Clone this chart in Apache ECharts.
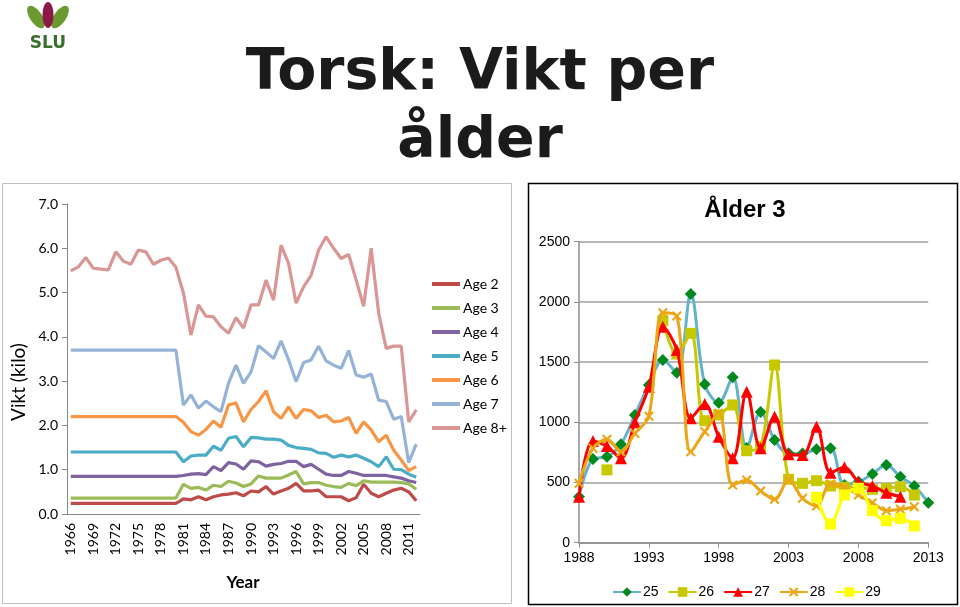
<!DOCTYPE html>
<html><head><meta charset="utf-8">
<script src="https://cdn.jsdelivr.net/npm/echarts@6/dist/echarts.min.js"></script>
<style>html,body{margin:0;padding:0;background:#fff}#c{width:960px;height:607px}</style>
</head><body><div id="c"></div>
<script>
// ---------- Left chart data (weight in kg by age) ----------
const ageYears = ['1966','1967','1968','1969','1970','1971','1972','1973','1974','1975','1976','1977','1978','1979','1980',
  '1981','1982','1983','1984','1985','1986','1987','1988','1989','1990','1991','1992','1993','1994','1995','1996','1997',
  '1998','1999','2000','2001','2002','2003','2004','2005','2006','2007','2008','2009','2010','2011','2012'];
const age2 = [0.24,0.24,0.24,0.24,0.24,0.24,0.24,0.24,0.24,0.24,0.24,0.24,0.24,0.24,0.24,
  0.34,0.32,0.39,0.32,0.39,0.43,0.45,0.48,0.41,0.52,0.50,0.62,0.45,0.52,0.58,0.69,0.52,0.52,0.54,0.39,
  0.39,0.39,0.30,0.37,0.67,0.47,0.39,0.47,0.54,0.58,0.50,0.30];
const age3 = [0.36,0.36,0.36,0.36,0.36,0.36,0.36,0.36,0.36,0.36,0.36,0.36,0.36,0.36,0.36,
  0.67,0.58,0.60,0.54,0.65,0.62,0.74,0.70,0.62,0.68,0.86,0.81,0.81,0.81,0.88,0.96,0.68,0.71,0.71,0.65,
  0.62,0.60,0.69,0.64,0.75,0.72,0.72,0.72,0.72,0.71,0.68,0.56];
const age4 = [0.85,0.85,0.85,0.85,0.85,0.85,0.85,0.85,0.85,0.85,0.85,0.85,0.85,0.85,0.85,
  0.87,0.90,0.91,0.89,1.07,0.98,1.16,1.13,1.01,1.20,1.18,1.08,1.12,1.14,1.19,1.19,1.07,1.12,1.01,0.90,
  0.87,0.87,0.96,0.92,0.87,0.87,0.87,0.87,0.84,0.81,0.75,0.71];
const age5 = [1.40,1.40,1.40,1.40,1.40,1.40,1.40,1.40,1.40,1.40,1.40,1.40,1.40,1.40,1.40,
  1.18,1.31,1.33,1.33,1.53,1.44,1.71,1.75,1.52,1.73,1.72,1.69,1.69,1.67,1.55,1.50,1.48,1.46,1.38,1.37,
  1.28,1.33,1.29,1.33,1.26,1.18,1.07,1.29,1.01,1.00,0.90,0.83];
const age6 = [2.20,2.20,2.20,2.20,2.20,2.20,2.20,2.20,2.20,2.20,2.20,2.20,2.20,2.20,2.20,
  2.07,1.86,1.78,1.91,2.10,1.96,2.46,2.51,2.08,2.36,2.54,2.78,2.31,2.16,2.42,2.16,2.36,2.33,2.18,2.23,
  2.08,2.10,2.18,1.82,2.08,1.90,1.63,1.78,1.44,1.22,0.98,1.07];
const age7 = [3.70,3.70,3.70,3.70,3.70,3.70,3.70,3.70,3.70,3.70,3.70,3.70,3.70,3.70,3.70,
  2.46,2.69,2.39,2.55,2.42,2.31,2.95,3.36,2.95,3.21,3.80,3.66,3.51,3.91,3.48,2.99,3.42,3.48,3.79,3.46,
  3.36,3.29,3.69,3.14,3.09,3.16,2.57,2.54,2.14,2.20,1.16,1.58];
const age8 = [5.49,5.58,5.79,5.55,5.53,5.51,5.92,5.71,5.64,5.96,5.92,5.64,5.73,5.78,5.57,
  4.99,4.04,4.72,4.47,4.45,4.23,4.08,4.43,4.20,4.72,4.72,5.28,4.83,6.07,5.66,4.76,5.13,5.39,5.96,6.26,
  6.00,5.77,5.86,5.28,4.69,6.00,4.53,3.74,3.79,3.79,2.08,2.35];
const ageNames = ['Age 2','Age 3','Age 4','Age 5','Age 6','Age 7','Age 8+'];
const ageColors = ['#BE4B48','#9BBB59','#7F63A1','#4AACC5','#F79646','#95B3D7','#D99694'];

// ---------- Right chart data (Ålder 3) ----------
const r3Years = [1988,1989,1990,1991,1992,1993,1994,1995,1996,1997,1998,1999,2000,2001,2002,2003,2004,2005,2006,2007,2008,2009,2010,2011,2012,2013];
const s25 = [382,695,714,817,1061,1310,1518,1412,2066,1316,1163,1374,786,1085,853,742,740,776,784,480,507,571,645,548,471,332];
const s26 = [null,null,605,null,null,null,1844,1567,1739,1013,1061,1144,764,800,1476,527,493,515,471,460,460,443,451,465,396,null];
const s27 = [382,845,803,701,1000,1296,1794,1600,1033,1152,880,701,1254,784,1047,735,728,964,582,626,507,471,415,382,null,null];
const s28 = [493,784,860,756,908,1050,1910,1883,756,922,1075,479,521,430,360,521,369,305,488,460,396,332,266,277,299,null];
const s29 = [null,null,null,null,null,null,null,null,null,null,null,null,null,null,null,null,null,377,155,396,452,266,183,203,139,null];
const r3Names = ['25','26','27','28','29'];

function pairs(vals){ return r3Years.map((y,i)=>[y, vals[i]==null ? '-' : vals[i]]); }

const chart = echarts.init(document.getElementById('c'), null, {renderer:'canvas'});
const leftFont = 'Lato, "Liberation Sans", sans-serif';
const rightFont = '"Liberation Sans", Arial, sans-serif';
const ageData = [age2,age3,age4,age5,age6,age7,age8];

const series = [];
ageData.forEach((d,i)=>{
  series.push({type:'line', name:ageNames[i], xAxisIndex:0, yAxisIndex:0, data:d,
    symbol:'none', lineStyle:{width:3.2,color:ageColors[i]}, itemStyle:{color:ageColors[i]}, z:2+i, animation:false});
});
const xPath = 'path://M0,1.5L1.5,0L5,3.5L8.5,0L10,1.5L6.5,5L10,8.5L8.5,10L5,6.5L1.5,10L0,8.5L3.5,5Z';
const rDefs = [
  {d:s25, line:'#63B3CF', mk:'#008A1E', sym:'diamond', size:12},
  {d:s26, line:'#C8C800', mk:'#C8C800', sym:'rect', size:11},
  {d:s27, line:'#FF0000', mk:'#FF0000', sym:'triangle', size:12},
  {d:s28, line:'#EBA614', mk:'#EBA614', sym:xPath, size:10},
  {d:s29, line:'#FFFF00', mk:'#FFFF00', sym:'rect', size:11}
];
rDefs.forEach((s,i)=>{
  series.push({type:'line', name:r3Names[i], xAxisIndex:1, yAxisIndex:1, data:pairs(s.d),
    smooth:0.35, connectNulls:false, symbol:s.sym, symbolSize:s.size, showAllSymbol:true,
    lineStyle:{width:3,color:s.line}, itemStyle:{color:s.mk, borderWidth:0}, z:3+i, animation:false});
});

chart.setOption({
  animation:false,
  grid:[
    {left:67, top:204, width:353, height:310},
    {left:579, top:241.7, width:349.3, height:301}
  ],
  xAxis:[
    {type:'category', gridIndex:0, data:ageYears, boundaryGap:true,
     axisLine:{lineStyle:{color:'#868686',width:1}},
     axisTick:{interval:0, length:5, lineStyle:{color:'#868686'}},
     axisLabel:{interval:2, rotate:90, fontFamily:leftFont, fontSize:14, color:'#000', margin:9}},
    {type:'value', gridIndex:1, min:1988, max:2013, interval:5,
     axisLine:{lineStyle:{color:'#8C8C8C',width:1.5}},
     axisTick:{show:true, length:5, lineStyle:{color:'#8C8C8C'}},
     axisLabel:{formatter:v=>String(v), fontFamily:rightFont, fontSize:14, color:'#000', margin:8},
     splitLine:{show:false}}
  ],
  yAxis:[
    {type:'value', gridIndex:0, min:0, max:7, interval:1,
     axisLine:{show:true, lineStyle:{color:'#868686',width:1}},
     axisTick:{show:true, length:5, lineStyle:{color:'#868686'}},
     axisLabel:{formatter:v=>v.toFixed(1), fontFamily:leftFont, fontSize:14, color:'#000', margin:9},
     splitLine:{show:false}},
    {type:'value', gridIndex:1, min:0, max:2500, interval:500,
     axisLine:{show:true, lineStyle:{color:'#8C8C8C',width:1.5}},
     axisTick:{show:true, length:5, lineStyle:{color:'#8C8C8C'}},
     axisLabel:{formatter:v=>String(v), fontFamily:rightFont, fontSize:14, color:'#000', margin:9},
     splitLine:{show:true, lineStyle:{color:'#A0A0A0', width:1.5}}}
  ],
  legend:[
    {data:ageNames, orient:'vertical', left:427, top:272, icon:'rect', itemWidth:28, itemHeight:4, itemGap:10,
     textStyle:{fontFamily:leftFont, fontSize:14, color:'#000', padding:[0,0,0,-2]}, selectedMode:false},
    {data:r3Names, orient:'horizontal', left:607, top:580, itemWidth:28, itemHeight:12, itemGap:9,
     textStyle:{fontFamily:rightFont, fontSize:14, color:'#000', padding:[0,0,0,-3]}, selectedMode:false}
  ],
  graphic:[
    {type:'text', left:'center', top:40, z:10,
     style:{text:'Torsk: Vikt per\nålder', font:'bold 57px "DejaVu Sans", sans-serif', fill:'#1b1b1b',
            textAlign:'center', lineHeight:68}},
    {type:'text', x:745, y:210, z:10,
     style:{text:'Ålder 3', font:'bold 24px "Liberation Sans", Arial, sans-serif', fill:'#000',
            textAlign:'center', textVerticalAlign:'middle'}},
    {type:'text', x:19, y:382, rotation:Math.PI/2, z:10,
     style:{text:'Vikt (kilo)', font:'19px Lato, "Liberation Sans", sans-serif', fill:'#000',
            textAlign:'center', textVerticalAlign:'middle'}},
    {type:'text', x:243, y:583, z:10,
     style:{text:'Year', font:'bold 17px Lato, "Liberation Sans", sans-serif', fill:'#000',
            textAlign:'center', textVerticalAlign:'middle'}},
    {type:'rect', shape:{x:528.5, y:183.5, width:429, height:421}, z:0,
     style:{fill:'none', stroke:'#000', lineWidth:1.5}},
    {type:'rect', shape:{x:2.5, y:183.5, width:509, height:420}, z:0,
     style:{fill:'none', stroke:'#BFBFBF', lineWidth:1}},
    // SLU logo
    {type:'ellipse', shape:{cx:0, cy:0, rx:6, ry:13}, x:36, y:17, rotation:0.6, z:10,
     style:{fill:'#6C9A2E'}},
    {type:'ellipse', shape:{cx:0, cy:0, rx:6, ry:13}, x:60, y:17, rotation:-0.6, z:10,
     style:{fill:'#6C9A2E'}},
    {type:'ellipse', shape:{cx:0, cy:0, rx:5.5, ry:13}, x:48, y:15, z:11,
     style:{fill:'#8B1A4A'}},
    {type:'text', x:48, y:44, z:10,
     style:{text:'SLU', font:'bold 17px "DejaVu Sans", sans-serif', fill:'#3B6E2A',
            textAlign:'center', textVerticalAlign:'middle'}}
  ],
  series:series
});
</script></body></html>
